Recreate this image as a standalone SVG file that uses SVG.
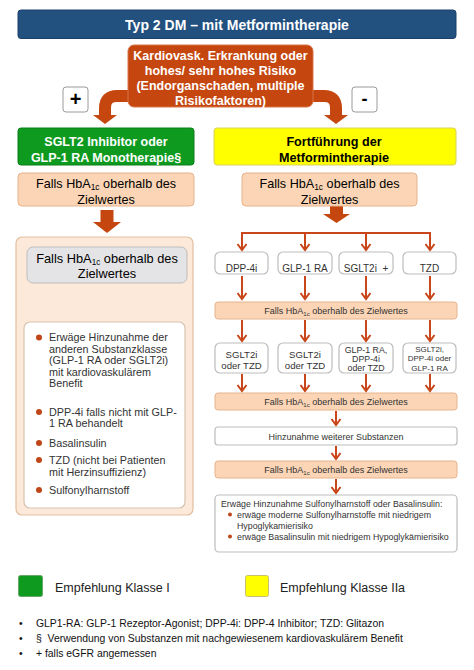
<svg xmlns="http://www.w3.org/2000/svg" width="474" height="670" viewBox="0 0 474 670">
<defs>
<marker id="chev" markerUnits="userSpaceOnUse" markerWidth="12" markerHeight="12" refX="7" refY="5.5" orient="auto" viewBox="0 0 12 12">
<path d="M1,1 L7,5.5 L1,10" fill="none" stroke="#c8461a" stroke-width="2"/>
</marker>
<style>
text{font-family:"Liberation Sans",Arial,sans-serif;}
.b{font-weight:bold;}
.c{text-anchor:middle;}
.wt{fill:#fff;}
.peach{fill:#fbd5b5;stroke:#e6b48e;stroke-width:1;}
.sbox{fill:#fff;stroke:#bdbdbd;stroke-width:1.2;}
.line{fill:none;stroke:#c8461a;stroke-width:2;marker-end:url(#chev);}
.thick{fill:none;stroke:#c5470f;stroke-width:12;}
.head{fill:#c5470f;}
.dot{fill:#c0461a;}
.st{fill:#333;}
</style>
</defs>
<rect width="474" height="670" fill="#fff"/>

<g id="title">
<rect x="18" y="10" width="438" height="28.5" rx="3" fill="#22507f" stroke="#1a406a"/>
<text x="237" y="29.5" class="b c wt" font-size="14">Typ 2 DM – mit Metformintherapie</text>
</g>

<g id="connectors">
<path class="thick" d="M132,96 H117 Q105,96 105,108 V116"/>
<polygon class="head" points="93,115 117,115 105,124"/>
<path class="thick" d="M308,96 H324 Q336,96 336,108 V116"/>
<polygon class="head" points="324,115 348,115 336,124"/>
<rect class="head" x="100.5" y="210" width="13" height="13"/>
<polygon class="head" points="93,222 121,222 107,233"/>
<rect class="head" x="330" y="206" width="13" height="9"/>
<polygon class="head" points="323,214 350,214 336.5,223"/>
<rect class="head" x="100.5" y="289" width="13" height="11"/>
<polygon class="head" points="94,299 120,299 107,310"/>
<path d="M242,233 H430" fill="none" stroke="#c8461a" stroke-width="2"/>
<path class="line" d="M242,232 V250"/>
<path class="line" d="M305,233 V250"/>
<path class="line" d="M366,233 V250"/>
<path class="line" d="M430,232 V250"/>
<path class="line" d="M242,276 V299"/>
<path class="line" d="M305,276 V299"/>
<path class="line" d="M366,276 V299"/>
<path class="line" d="M430,276 V299"/>
<path class="line" d="M242,320 V341"/>
<path class="line" d="M305,320 V341"/>
<path class="line" d="M366,320 V341"/>
<path class="line" d="M430,320 V341"/>
<path class="line" d="M242,374 V391"/>
<path class="line" d="M305,374 V391"/>
<path class="line" d="M366,374 V391"/>
<path class="line" d="M430,374 V391"/>
<path class="line" d="M336,411 V425"/>
<path class="line" d="M336,446 V459"/>
<path class="line" d="M336,479 V493"/>
</g>

<g id="risk">
<rect x="128" y="45" width="185" height="62" rx="6" fill="#c5470f" stroke="#d8754a"/>
<text class="b c wt" font-size="12.5"><tspan x="220.5" y="59.5">Kardiovask. Erkrankung oder</tspan><tspan x="220.5" y="74.5">hohes/ sehr hohes Risiko</tspan><tspan x="220.5" y="89.5">(Endorganschaden, multiple</tspan><tspan x="220.5" y="104.5">Risikofaktoren)</tspan></text>
</g>

<g id="plus">
<rect x="63" y="87" width="25" height="25" rx="3" fill="#fff" stroke="#9a9a9a"/>
<text x="75.5" y="106" class="b c" font-size="20">+</text>
</g>
<g id="minus">
<rect x="352" y="87" width="25" height="25" rx="3" fill="#fff" stroke="#9a9a9a"/>
<text x="364.5" y="105" class="b c" font-size="18">-</text>
</g>

<g id="sglt2-box">
<rect x="18" y="128" width="176" height="37" rx="3" fill="#0e9a1f" stroke="#0b8019"/>
<text class="b c wt" font-size="12.5"><tspan x="106" y="145.5">SGLT2 Inhibitor oder</tspan><tspan x="106" y="161.5">GLP-1 RA Monotherapie§</tspan></text>
</g>

<g id="metformin-box">
<rect x="214" y="128" width="242" height="37" rx="3" fill="#ffff00" stroke="#d8d060"/>
<text class="b c" font-size="12.6"><tspan x="334" y="145.5">Fortführung der</tspan><tspan x="334" y="161.5">Metformintherapie</tspan></text>
</g>

<g id="hba1c-left">
<rect x="18" y="173" width="176" height="33" rx="4" class="peach"/>
<text class="c" font-size="12.6"><tspan x="106" y="187.5">Falls HbA<tspan font-size="8.5" dy="2.5">1c</tspan><tspan dy="-2.5"> oberhalb des</tspan></tspan><tspan x="106" y="203.5">Zielwertes</tspan></text>
</g>

<g id="hba1c-right">
<rect x="242" y="173" width="175" height="33" rx="4" class="peach"/>
<text class="c" font-size="12.6"><tspan x="329.5" y="187.5">Falls HbA<tspan font-size="8.5" dy="2.5">1c</tspan><tspan dy="-2.5"> oberhalb des</tspan></tspan><tspan x="329.5" y="203.5">Zielwertes</tspan></text>
</g>

<g id="left-container">
<rect x="16" y="237" width="177" height="278" rx="6" fill="#fde9d9" stroke="#e3bf9f" stroke-width="1.2"/>
</g>

<g id="hba1c-grey">
<rect x="27" y="247" width="160" height="36" rx="6" fill="#e4e4e6" stroke="#bdbdbd"/>
<text class="c" font-size="12.8"><tspan x="107" y="263">Falls HbA<tspan font-size="8.2" dy="2">1c</tspan><tspan dy="-2"> oberhalb des</tspan></tspan><tspan x="107" y="278">Zielwertes</tspan></text>
</g>

<g id="options-left">
<rect x="24" y="322" width="161" height="186" rx="6" fill="#fff" stroke="#d8c3b0" stroke-width="1.2"/>
<circle class="dot" cx="39" cy="337.5" r="3"/>
<circle class="dot" cx="39" cy="412" r="3"/>
<circle class="dot" cx="39" cy="443" r="3"/>
<circle class="dot" cx="39" cy="460" r="3"/>
<circle class="dot" cx="39" cy="490" r="3"/>
<text font-size="10.8" class="st">
<tspan x="49" y="341">Erwäge Hinzunahme der</tspan>
<tspan x="49" y="352.5">anderen Substanzklasse</tspan>
<tspan x="49" y="364">(GLP-1 RA oder SGLT2i)</tspan>
<tspan x="49" y="375.5">mit kardiovaskulärem</tspan>
<tspan x="49" y="387">Benefit</tspan>
<tspan x="49" y="415.5">DPP-4i falls nicht mit GLP-</tspan>
<tspan x="49" y="427">1 RA behandelt</tspan>
<tspan x="49" y="446.5">Basalinsulin</tspan>
<tspan x="49" y="463.8">TZD (nicht bei Patienten</tspan>
<tspan x="49" y="475.5">mit Herzinsuffizienz)</tspan>
<tspan x="49" y="493.8">Sulfonylharnstoff</tspan>
</text>
</g>

<g id="dpp4">
<rect class="sbox" x="215" y="252" width="53" height="22" rx="5"/>
<text x="241.5" y="271.5" class="c st" font-size="10">DPP-4i</text>
</g>
<g id="glp1">
<rect class="sbox" x="278" y="252" width="54" height="22" rx="5"/>
<text x="305" y="271.5" class="c st" font-size="10">GLP-1 RA</text>
</g>
<g id="sglt2i">
<rect class="sbox" x="339" y="252" width="54" height="22" rx="5"/>
<text x="366" y="271.5" class="c st" font-size="10" xml:space="preserve">SGLT2i  +</text>
</g>
<g id="tzd">
<rect class="sbox" x="403" y="252" width="53" height="22" rx="5"/>
<text x="429.5" y="271.5" class="c st" font-size="10">TZD</text>
</g>

<g id="hba1c-bar1">
<rect x="215" y="302" width="242" height="17" rx="3" class="peach"/>
<text x="336" y="314" class="c st" font-size="9">Falls HbA<tspan font-size="6" dy="2">1c</tspan><tspan dy="-2"> oberhalb des Zielwertes</tspan></text>
</g>

<g id="opt1">
<rect class="sbox" x="215" y="343" width="53" height="30" rx="5"/>
<text class="c st" font-size="9.6"><tspan x="241.5" y="357.5">SGLT2i</tspan><tspan x="241.5" y="368.5">oder TZD</tspan></text>
</g>
<g id="opt2">
<rect class="sbox" x="278" y="343" width="54" height="30" rx="5"/>
<text class="c st" font-size="9.6"><tspan x="305" y="357.5">SGLT2i</tspan><tspan x="305" y="368.5">oder TZD</tspan></text>
</g>
<g id="opt3">
<rect class="sbox" x="339" y="343" width="54" height="30" rx="5"/>
<text class="c st" font-size="8.8"><tspan x="366" y="352.5">GLP-1 RA,</tspan><tspan x="366" y="361.5">DPP-4i</tspan><tspan x="366" y="371">oder TZD</tspan></text>
</g>
<g id="opt4">
<rect class="sbox" x="403" y="343" width="53" height="30" rx="5"/>
<text class="c st" font-size="8"><tspan x="429.5" y="352">SGLT2i,</tspan><tspan x="429.5" y="361">DPP-4i oder</tspan><tspan x="429.5" y="370.5">GLP-1 RA</tspan></text>
</g>

<g id="hba1c-bar2">
<rect x="215" y="393" width="242" height="17" rx="3" class="peach"/>
<text x="336" y="405" class="c st" font-size="9">Falls HbA<tspan font-size="6" dy="2">1c</tspan><tspan dy="-2"> oberhalb des Zielwertes</tspan></text>
</g>

<g id="more">
<rect class="sbox" x="215" y="427" width="242" height="18" rx="3"/>
<text x="336" y="440" class="c st" font-size="9">Hinzunahme weiterer Substanzen</text>
</g>

<g id="hba1c-bar3">
<rect x="215" y="461" width="242" height="17" rx="3" class="peach"/>
<text x="336" y="473" class="c st" font-size="9">Falls HbA<tspan font-size="6" dy="2">1c</tspan><tspan dy="-2"> oberhalb des Zielwertes</tspan></text>
</g>

<g id="final">
<rect class="sbox" x="215" y="495" width="242" height="57" rx="4"/>
<circle class="dot" cx="230" cy="514.5" r="2"/>
<circle class="dot" cx="230" cy="536.5" r="2"/>
<text font-size="8.8" class="st">
<tspan x="221" y="507">Erwäge Hinzunahme Sulfonylharnstoff oder Basalinsulin:</tspan>
<tspan x="237" y="518">erwäge moderne Sulfonylharnstoffe mit niedrigem</tspan>
<tspan x="237" y="529">Hypoglykamierisiko</tspan>
<tspan x="237" y="540">erwäge Basalinsulin mit niedrigem Hypoglykämierisiko</tspan>
</text>
</g>

<g id="legend">
<rect x="18.5" y="575.5" width="24" height="21" rx="2" fill="#0e9a1f" stroke="#6aa56a"/>
<text x="55" y="591.5" font-size="12.5" fill="#222">Empfehlung Klasse I</text>
<rect x="245.5" y="575.5" width="23" height="21" rx="2" fill="#ffff00" stroke="#c8c070"/>
<text x="280" y="591.5" font-size="12.5" fill="#222">Empfehlung Klasse IIa</text>
</g>

<g id="footnotes">
<text font-size="10.4" fill="#111">
<tspan x="19" y="627">•</tspan>
<tspan x="19" y="642">•</tspan>
<tspan x="19" y="657">•</tspan>
</text>
<text font-size="10.4" fill="#111" x="36" y="627">GLP1-RA: GLP-1 Rezeptor-Agonist; DPP-4i: DPP-4 Inhibitor; TZD: Glitazon</text>
<text font-size="10.4" fill="#111" x="36" y="642" xml:space="preserve">§  Verwendung von Substanzen mit nachgewiesenem kardiovaskulärem Benefit</text>
<text font-size="10.4" fill="#111" x="36" y="657">+ falls eGFR angemessen</text>
</g>
</svg>
